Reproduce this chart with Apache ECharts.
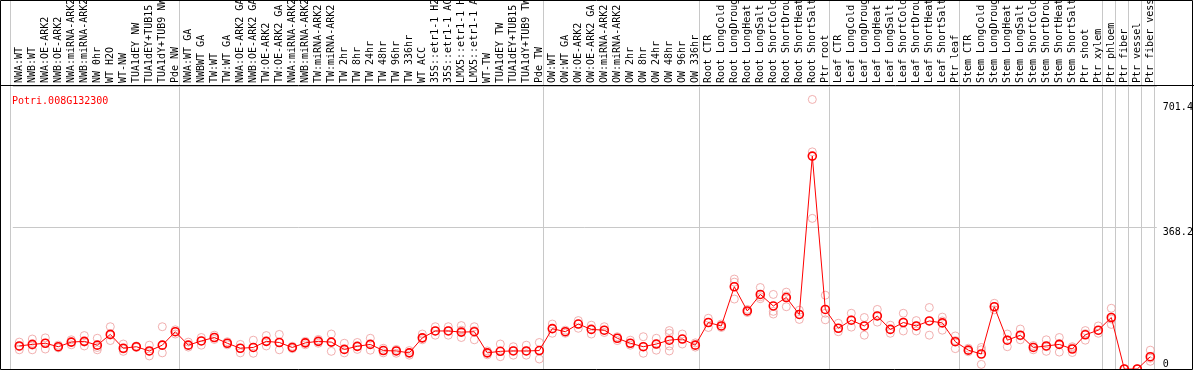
<!DOCTYPE html>
<html><head><meta charset="utf-8">
<script src="https://cdn.jsdelivr.net/npm/echarts@6/dist/echarts.min.js"></script>
<style>html,body{margin:0;padding:0;background:#fff}#c{width:1194px;height:370px}</style>
</head><body><div id="c"></div>
<script>
const geneId = 'Potri.008G132300';
const categories = [
  'NWA:WT','NWB:WT','NWA:OE-ARK2','NWB:OE-ARK2','NWA:miRNA-ARK2','NWB:miRNA-ARK2','NW 0hr','WT H2O','WT-NW','TUA1dEY NW','TUA1dEY+TUB15','TUA1dY+TUB9 NW','Pde NW',
  'NWA:WT GA','NWBWT GA','TW:WT','TW:WT GA','NWA:OE-ARK2 GA','NWB:OE-ARK2 GA','TW:OE-ARK2','TW:OE-ARK2 GA','NWA:miRNA-ARK2','NWB:miRNA-ARK2','TW:miRNA-ARK2','TW:miRNA-ARK2','TW 2hr','TW 8hr','TW 24hr','TW 48hr','TW 96hr','TW 336hr','WT ACC','35S::etr1-1 H2O','35S::etr1-1 ACC','LMX5::etr1-1 H2O','LMX5::etr1-1 ACC','WT-TW','TUA1dEY TW','TUA1dEY+TUB15','TUA1dY+TUB9 TW','Pde TW',
  'OW:WT','OW:WT GA','OW:OE-ARK2','OW:OE-ARK2 GA','OW:miRNA-ARK2','OW:miRNA-ARK2','OW 2hr','OW 8hr','OW 24hr','OW 48hr','OW 96hr','OW 336hr',
  'Root CTR','Root LongCold','Root LongDrought','Root LongHeat','Root LongSalt','Root ShortCold','Root ShortDrought','Root ShortHeat','Root ShortSalt','Ptr root',
  'Leaf CTR','Leaf LongCold','Leaf LongDrought','Leaf LongHeat','Leaf LongSalt','Leaf ShortCold','Leaf ShortDrought','Leaf ShortHeat','Leaf ShortSalt','Ptr leaf',
  'Stem CTR','Stem LongCold','Stem LongDrought','Stem LongHeat','Stem LongSalt','Stem ShortCold','Stem ShortDrought','Stem ShortHeat','Stem ShortSalt','Ptr shoot','Ptr xylem',
  'Ptr phloem','Ptr fiber','Ptr vessel','Ptr fiber vessel'
];
const meanValues = [
  60,64,67,58,70,72,62,90,54,58,47,62,97,
  62,73,82,67,54,56,72,69,56,68,72,70,51,59,64,48,47,42,81,99,99,96,97,42,46,47,47,48,
  105,97,117,103,101,80,67,58,65,75,78,62,
  121,112,214,151,194,164,186,142,554,155,
  106,127,112,138,103,121,112,125,120,71,
  49,39,162,75,88,56,60,64,52,89,101,
  134,0,0,32
];
const replicates = [
  [70,58,50],[78,62,50],[81,67,52],[62,58,55],[76,70,63],[87,70,60],[80,56,50],[110,88,74],[65,52,46],[60,58,56],[62,46,34],[110,62,42],[102,97,91],
  [70,62,57],[82,73,62],[88,82,77],[71,67,63],[64,54,42],[75,56,41],[87,72,60],[90,69,50],[59,56,53],[72,68,63],[77,72,67],[91,70,46],[67,51,42],[69,59,51],[80,64,49],[54,48,42],[51,47,41],[48,42,36],[91,81,76],[110,99,88],[110,100,88],[113,101,82],[110,100,76],[47,42,37],[65,46,32],[58,48,36],[62,47,36],[69,48,26],
  [117,105,93],[101,97,93],[126,117,106],[114,103,91],[110,101,95],[84,80,74],[75,67,62],[84,58,41],[80,65,49],[100,93,60,47],[91,78,65],[68,62,57],
  [132,121,108],[117,112,108],[234,226,182],[155,151,147],[212,188,183],[194,150,143],[200,190,162],[153,142,129],[701.4,565,392],[192,145,128],
  [119,106,97],[145,128,109],[134,112,88],[155,138,122],[114,103,93],[145,121,99],[126,112,99],[160,125,88],[135,125,101],[86,74,53],
  [54,49,45],[56,50,12],[171,162,154],[91,76,58],[104,86,76],[61,57,50],[76,58,46],[82,66,44],[58,55,43],[100,92,75],[112,100,93],
  [158,130,116],[0,0,0],[0,0,0],[49,28,20]
];
const yTickLabels = [0, 368.2];
const yAxisMax = 736.4;
const yInterval = 368.2;
const maxValueLabel = 701.4;
const groupStarts = [0,13,41,53,63,73,84,85,86,87];

const FONT = 'DejaVu Sans Mono';
const repPoints = [];
replicates.forEach((arr, i) => arr.forEach(v => repPoints.push([i, v])));

const chart = echarts.init(document.getElementById('c'), null, {renderer: 'canvas'});
chart.setOption({
  animation: false,
  backgroundColor: '#fff',
  title: {
    text: geneId, left: 7, top: 91,
    textStyle: {color: '#ff0000', fontFamily: FONT, fontSize: 10, fontWeight: 'normal'}
  },
  grid: [
    {left: 12.8, right: 37.2, top: 86, bottom: 1, containLabel: false, outerBoundsMode: 'none'},
    {left: 10.7, right: 39.3, top: 0, bottom: 1, containLabel: false, outerBoundsMode: 'none'}
  ],
  xAxis: [
    {
      type: 'category', gridIndex: 0, data: categories, position: 'top', boundaryGap: true,
      axisLine: {show: false}, axisTick: {show: false}, splitLine: {show: false},
      axisLabel: {rotate: 90, interval: 0, margin: 3, color: '#000', fontFamily: FONT, fontSize: 10, hideOverlap: false}
    },
    {
      type: 'category', gridIndex: 1, data: categories, boundaryGap: true,
      axisLine: {show: false}, axisTick: {show: false}, axisLabel: {show: false},
      splitLine: {show: true, interval: (idx) => groupStarts.indexOf(idx) >= 0,
        lineStyle: {color: '#c8c8c8', width: 1}}
    }
  ],
  yAxis: [
    {
      type: 'value', gridIndex: 0, position: 'right', min: 0, max: yAxisMax, interval: yInterval,
      axisLine: {show: false}, axisTick: {show: false},
      splitLine: {show: true, lineStyle: {color: '#c8c8c8', width: 1}},
      axisLabel: {
        margin: 6, color: '#000', fontFamily: FONT, fontSize: 10, align: 'left',
        verticalAlign: 'top', verticalAlignMinLabel: 'bottom',
        formatter: (v) => yTickLabels.some(t => Math.abs(t - v) < 1e-6) ? String(v) : ''
      }
    },
    {type: 'value', gridIndex: 1, min: 0, max: 1, show: false, splitLine: {show: false}}
  ],
  series: [
    {
      type: 'scatter', xAxisIndex: 0, yAxisIndex: 0, data: repPoints,
      symbol: 'circle', symbolSize: 8,
      itemStyle: {color: 'rgba(0,0,0,0)', borderColor: '#ee9c9c', borderWidth: 1},
      markLine: {
        silent: true, symbol: ['none', 'none'],
        lineStyle: {color: 'rgba(255,255,255,0)', width: 0, type: 'solid'},
        emphasis: {disabled: true},
        label: {show: true, position: 'end', distance: 6, formatter: String(maxValueLabel),
          color: '#000', fontFamily: FONT, fontSize: 10, verticalAlign: 'top', padding: [3, 0, 0, 0]},
        data: [{yAxis: maxValueLabel}]
      },
      z: 2
    },
    {
      type: 'line', xAxisIndex: 0, yAxisIndex: 0, data: meanValues,
      symbol: 'circle', symbolSize: 8, showSymbol: true,
      lineStyle: {color: '#ff0000', width: 1},
      itemStyle: {color: 'rgba(0,0,0,0)', borderColor: '#ff0000', borderWidth: 1.6},
      z: 3
    }
  ],
  graphic: [
    {type: 'line', z: 100, shape: {x1: 0, y1: 85.5, x2: 1194, y2: 85.5}, style: {stroke: '#000', lineWidth: 1}},
    {type: 'rect', z: 100, shape: {x: 0.5, y: 0.5, width: 1192, height: 369}, style: {fill: null, stroke: '#000', lineWidth: 1}}
  ]
});
</script></body></html>
